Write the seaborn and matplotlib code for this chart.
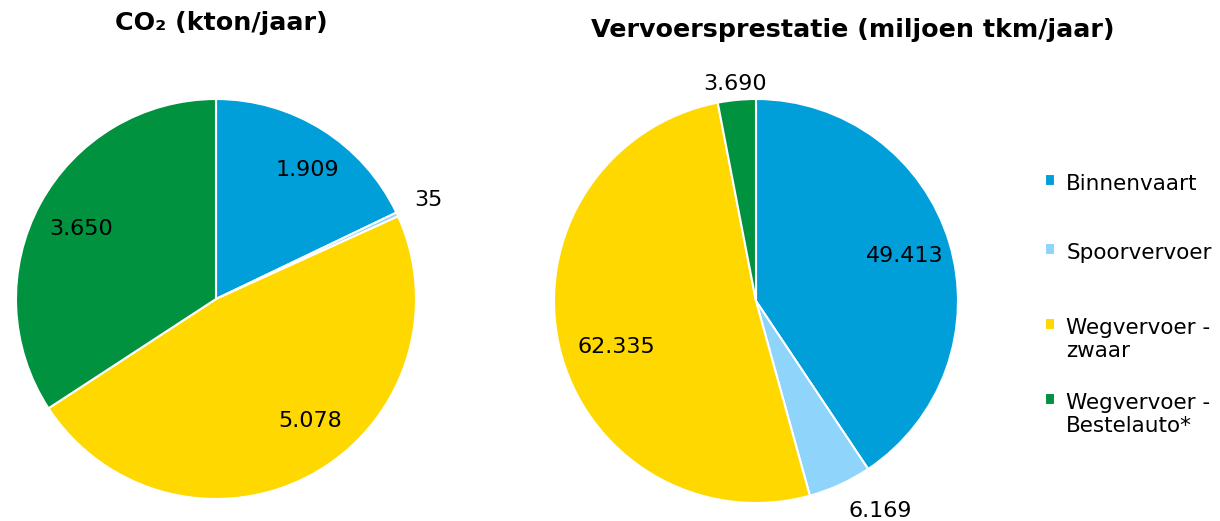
import numpy as np
import matplotlib
matplotlib.use("Agg")
import matplotlib.pyplot as plt
import seaborn as sns

# Data (kton/jaar and miljoen tkm/jaar)
modes = ["Binnenvaart", "Spoorvervoer", "Wegvervoer -\nzwaar", "Wegvervoer -\nBestelauto*"]
co2 = [1909, 35, 5078, 3650]
co2_labels = ["1.909", "35", "5.078", "3.650"]
tkm = [49413, 6169, 62335, 3690]
tkm_labels = ["49.413", "6.169", "62.335", "3.690"]

colors = ["#009FDA", "#8FD4FA", "#FFD800", "#00923F"]

sns.set_theme(style="white")
plt.rcParams['font.family'] = ['DejaVu Sans']
plt.rcParams['text.color'] = 'black'

fig = plt.figure(figsize=(12.2, 5.21), dpi=100)
W, H = 1220, 521


def draw_pie(ax, values, labels, dists, offsets):
    wedges, _ = ax.pie(values, colors=colors, startangle=90, counterclock=False,
                       wedgeprops=dict(edgecolor="white", linewidth=1.5))
    for w, lab, d, off in zip(wedges, labels, dists, offsets):
        ang = np.deg2rad((w.theta1 + w.theta2) / 2 + off)
        ax.text(d * np.cos(ang), d * np.sin(ang), lab, ha="center", va="center",
                fontsize=16, color="black")
    ax.set_xlim(-1, 1)
    ax.set_ylim(-1, 1)
    ax.axis("off")
    return wedges


# left pie: centre (216, 299), radius 200 px
ax1 = fig.add_axes([16 / W, (H - 499) / H, 400 / W, 400 / H])
draw_pie(ax1, co2, co2_labels, [0.79, 1.17, 0.77, 0.76], [-3, 0, 9, 1])

# right pie: centre (756, 301), radius 202 px
ax2 = fig.add_axes([554 / W, (H - 503) / H, 404 / W, 404 / H])
wedges = draw_pie(ax2, tkm, tkm_labels, [0.77, 1.21, 0.73, 1.08], [0, 6, 5, 0])

fig.text(221 / W, 1 - 23 / H, "CO₂ (kton/jaar)", ha="center", va="center",
         fontsize=18.3, fontweight="bold", color="black")
fig.text(853 / W, 1 - 30 / H, "Vervoersprestatie (miljoen tkm/jaar)", ha="center",
         va="center", fontsize=18.3, fontweight="bold", color="black")

# legend: one entry per block so the rows sit where Excel put them
row_tops = [165, 234, 309, 384]
for w, name, top in zip(wedges, modes, row_tops):
    leg = fig.legend([w], [name], loc="upper left", bbox_to_anchor=(1036 / W, 1 - top / H),
                     frameon=False, fontsize=15.5, handlelength=0.5, handleheight=0.5,
                     handletextpad=0.5, borderaxespad=0, labelcolor="black")
    # marker next to the first line of two-line entries
    for col in leg._legend_handle_box.get_children():
        for row in col.get_children():
            row.align = "top"

fig.savefig("out.png", dpi=100)
